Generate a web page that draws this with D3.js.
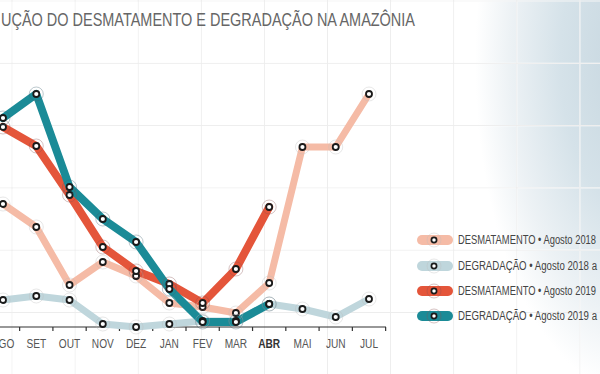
<!DOCTYPE html>
<html><head><meta charset="utf-8">
<script src="https://cdn.jsdelivr.net/npm/d3@7"></script>
<style>
html,body{margin:0;padding:0;background:#fff;overflow:hidden;}
svg{display:block;}
text{font-family:"Liberation Sans","Arial",sans-serif;}
</style></head>
<body>
<svg id="c" width="600" height="374"></svg>
<script>
// ---- data ----
const months = ["AGO","SET","OUT","NOV","DEZ","JAN","FEV","MAR","ABR","MAI","JUN","JUL"];
const desmat1819 = [1230,1000,420,650,510,240,200,140,440,1800,1800,2330];
const degrad1819 = [270,310,270,30,0,30,60,60,230,180,100,280];
const desmat1920 = [2000,1810,1320,800,560,430,240,580,1200];
const degrad1920 = [2090,2330,1400,1080,850,380,50,50,230];
const legendLabels = [
  "DESMATAMENTO \u2022 Agosto 2018",
  "DEGRADA\u00C7\u00C3O \u2022 Agosto 2018 a",
  "DESMATAMENTO \u2022 Agosto 2019",
  "DEGRADA\u00C7\u00C3O \u2022  Agosto 2019 a"
];
const title = "U\u00C7\u00C3O DO DESMATAMENTO E DEGRADA\u00C7\u00C3O NA AMAZ\u00D4NIA";
const colors = ["#f5bba6","#bfd6dc","#e4553a","#1b8b97"];

const svg = d3.select("#c");
const W = 600, H = 374;

// background gradient (elliptical, top-right)
const defs = svg.append("defs");
const g1 = defs.append("radialGradient").attr("id","bg")
  .attr("gradientUnits","userSpaceOnUse")
  .attr("cx",0).attr("cy",0).attr("r",1)
  .attr("gradientTransform","translate(630,60) scale(155,330)");
g1.append("stop").attr("offset","0%").attr("stop-color","#c6d6df");
g1.append("stop").attr("offset","45%").attr("stop-color","#d5e2e9");
g1.append("stop").attr("offset","78%").attr("stop-color","#edf2f5");
g1.append("stop").attr("offset","100%").attr("stop-color","#ffffff");

const gx = d3.range(12, W, 63.1);
const gy = d3.range(1, H, 62.3);

const mask = defs.append("mask").attr("id","gm");
mask.append("rect").attr("width",W).attr("height",H).attr("fill","#fff");
mask.selectAll("line.v").data(gx).join("line").attr("class","v")
  .attr("x1",d=>d).attr("x2",d=>d).attr("y1",0).attr("y2",H).attr("stroke","#000").attr("stroke-width",1.2);
mask.selectAll("line.h").data(gy).join("line").attr("class","h")
  .attr("x1",0).attr("x2",W).attr("y1",d=>d).attr("y2",d=>d).attr("stroke","#000").attr("stroke-width",1.2);

svg.append("rect").attr("width",W).attr("height",H).attr("fill","#fff");
// grid
svg.append("g").selectAll("line").data(gx).join("line")
  .attr("x1",d=>d).attr("x2",d=>d).attr("y1",0).attr("y2",H)
  .attr("stroke","#ededed").attr("stroke-width",1);
svg.append("g").selectAll("line").data(gy).join("line")
  .attr("x1",0).attr("x2",W).attr("y1",d=>d).attr("y2",d=>d)
  .attr("stroke","#ededed").attr("stroke-width",1);
svg.append("rect").attr("width",W).attr("height",H).attr("fill","url(#bg)").attr("mask","url(#gm)");

// title
svg.append("text").attr("x",1).attr("y",25.5)
  .attr("font-size",17.5).attr("fill","#666")
  .attr("textLength",414).attr("lengthAdjust","spacingAndGlyphs").text(title);

// scales
const x = d3.scalePoint().domain(months).range([3, 369]);
const y = d3.scaleLinear().domain([0, 2500]).range([327, 77]);

// axis
const axisG = svg.append("g").attr("transform","translate(0,327)");
axisG.append("line").attr("x1",0).attr("x2",386).attr("stroke","#333").attr("stroke-width",1.2);
const step = x.step();
const tickPos = months.map(m => x(m) + step/2);
axisG.selectAll("line.t").data(tickPos).join("line").attr("class","t")
  .attr("x1",d=>d).attr("x2",d=>d).attr("y1",0).attr("y2",4)
  .attr("stroke","#333").attr("stroke-width",1.2);
axisG.selectAll("text").data(months).join("text")
  .attr("transform",d=>`translate(${x(d)},20.5) scale(0.78,1)`)
  .attr("text-anchor","middle")
  .attr("font-size",13)
  .attr("font-weight",d=>d==="ABR"?"bold":"normal")
  .attr("fill",d=>d==="ABR"?"#333":"#555")
  .text(d=>d);

// series
const series = [
  {v:desmat1819, c:colors[0], w:7, halo:"#bbbbbb"},
  {v:degrad1819, c:colors[1], w:7, halo:"#bbbbbb"},
  {v:desmat1920, c:colors[2], w:8, halo:"#8a5050"},
  {v:degrad1920, c:colors[3], w:8, halo:"#406070"}
];
const line = d3.line().x((d,i)=>x(months[i])).y(d=>y(d));
series.forEach(s=>{
  svg.append("path").datum(s.v).attr("d",line).attr("fill","none")
    .attr("stroke",s.c).attr("stroke-width",s.w)
    .attr("stroke-linejoin","round").attr("stroke-linecap","round");
});
series.forEach(s=>{
  const g = svg.append("g");
  g.selectAll("circle.h").data(s.v).join("circle").attr("class","h")
    .attr("cx",(d,i)=>x(months[i])).attr("cy",d=>y(d)).attr("r",7)
    .attr("fill","none").attr("stroke",s.halo).attr("stroke-opacity",0.5).attr("stroke-width",0.7);
  g.selectAll("circle.m").data(s.v).join("circle").attr("class","m")
    .attr("cx",(d,i)=>x(months[i])).attr("cy",d=>y(d)).attr("r",3)
    .attr("fill","#fff").attr("stroke","#1a1a1a").attr("stroke-width",1.8);
});

// legend
const lg = svg.append("g");
const ly = [240,266,291,316];
const lw = [138,139,138,139];
legendLabels.forEach((t,i)=>{
  const row = lg.append("g").attr("transform",`translate(0,${ly[i]})`);
  row.append("rect").attr("x",417).attr("y",-5).attr("width",36).attr("height",10).attr("rx",5)
    .attr("fill",colors[i]);
  row.append("circle").attr("cx",434).attr("cy",0).attr("r",7).attr("fill","none")
    .attr("stroke",i>=2?"#8a5050":"#bbbbbb").attr("stroke-opacity",0.5).attr("stroke-width",0.7);
  row.append("circle").attr("cx",434).attr("cy",0).attr("r",2.6).attr("fill","#fff")
    .attr("stroke","#1a1a1a").attr("stroke-width",1.7);
  row.append("text").attr("x",458).attr("y",4.3).attr("font-size",12).attr("fill","#444")
    .attr("textLength",lw[i]).attr("lengthAdjust","spacingAndGlyphs").text(t);
});
</script>
</body></html>
